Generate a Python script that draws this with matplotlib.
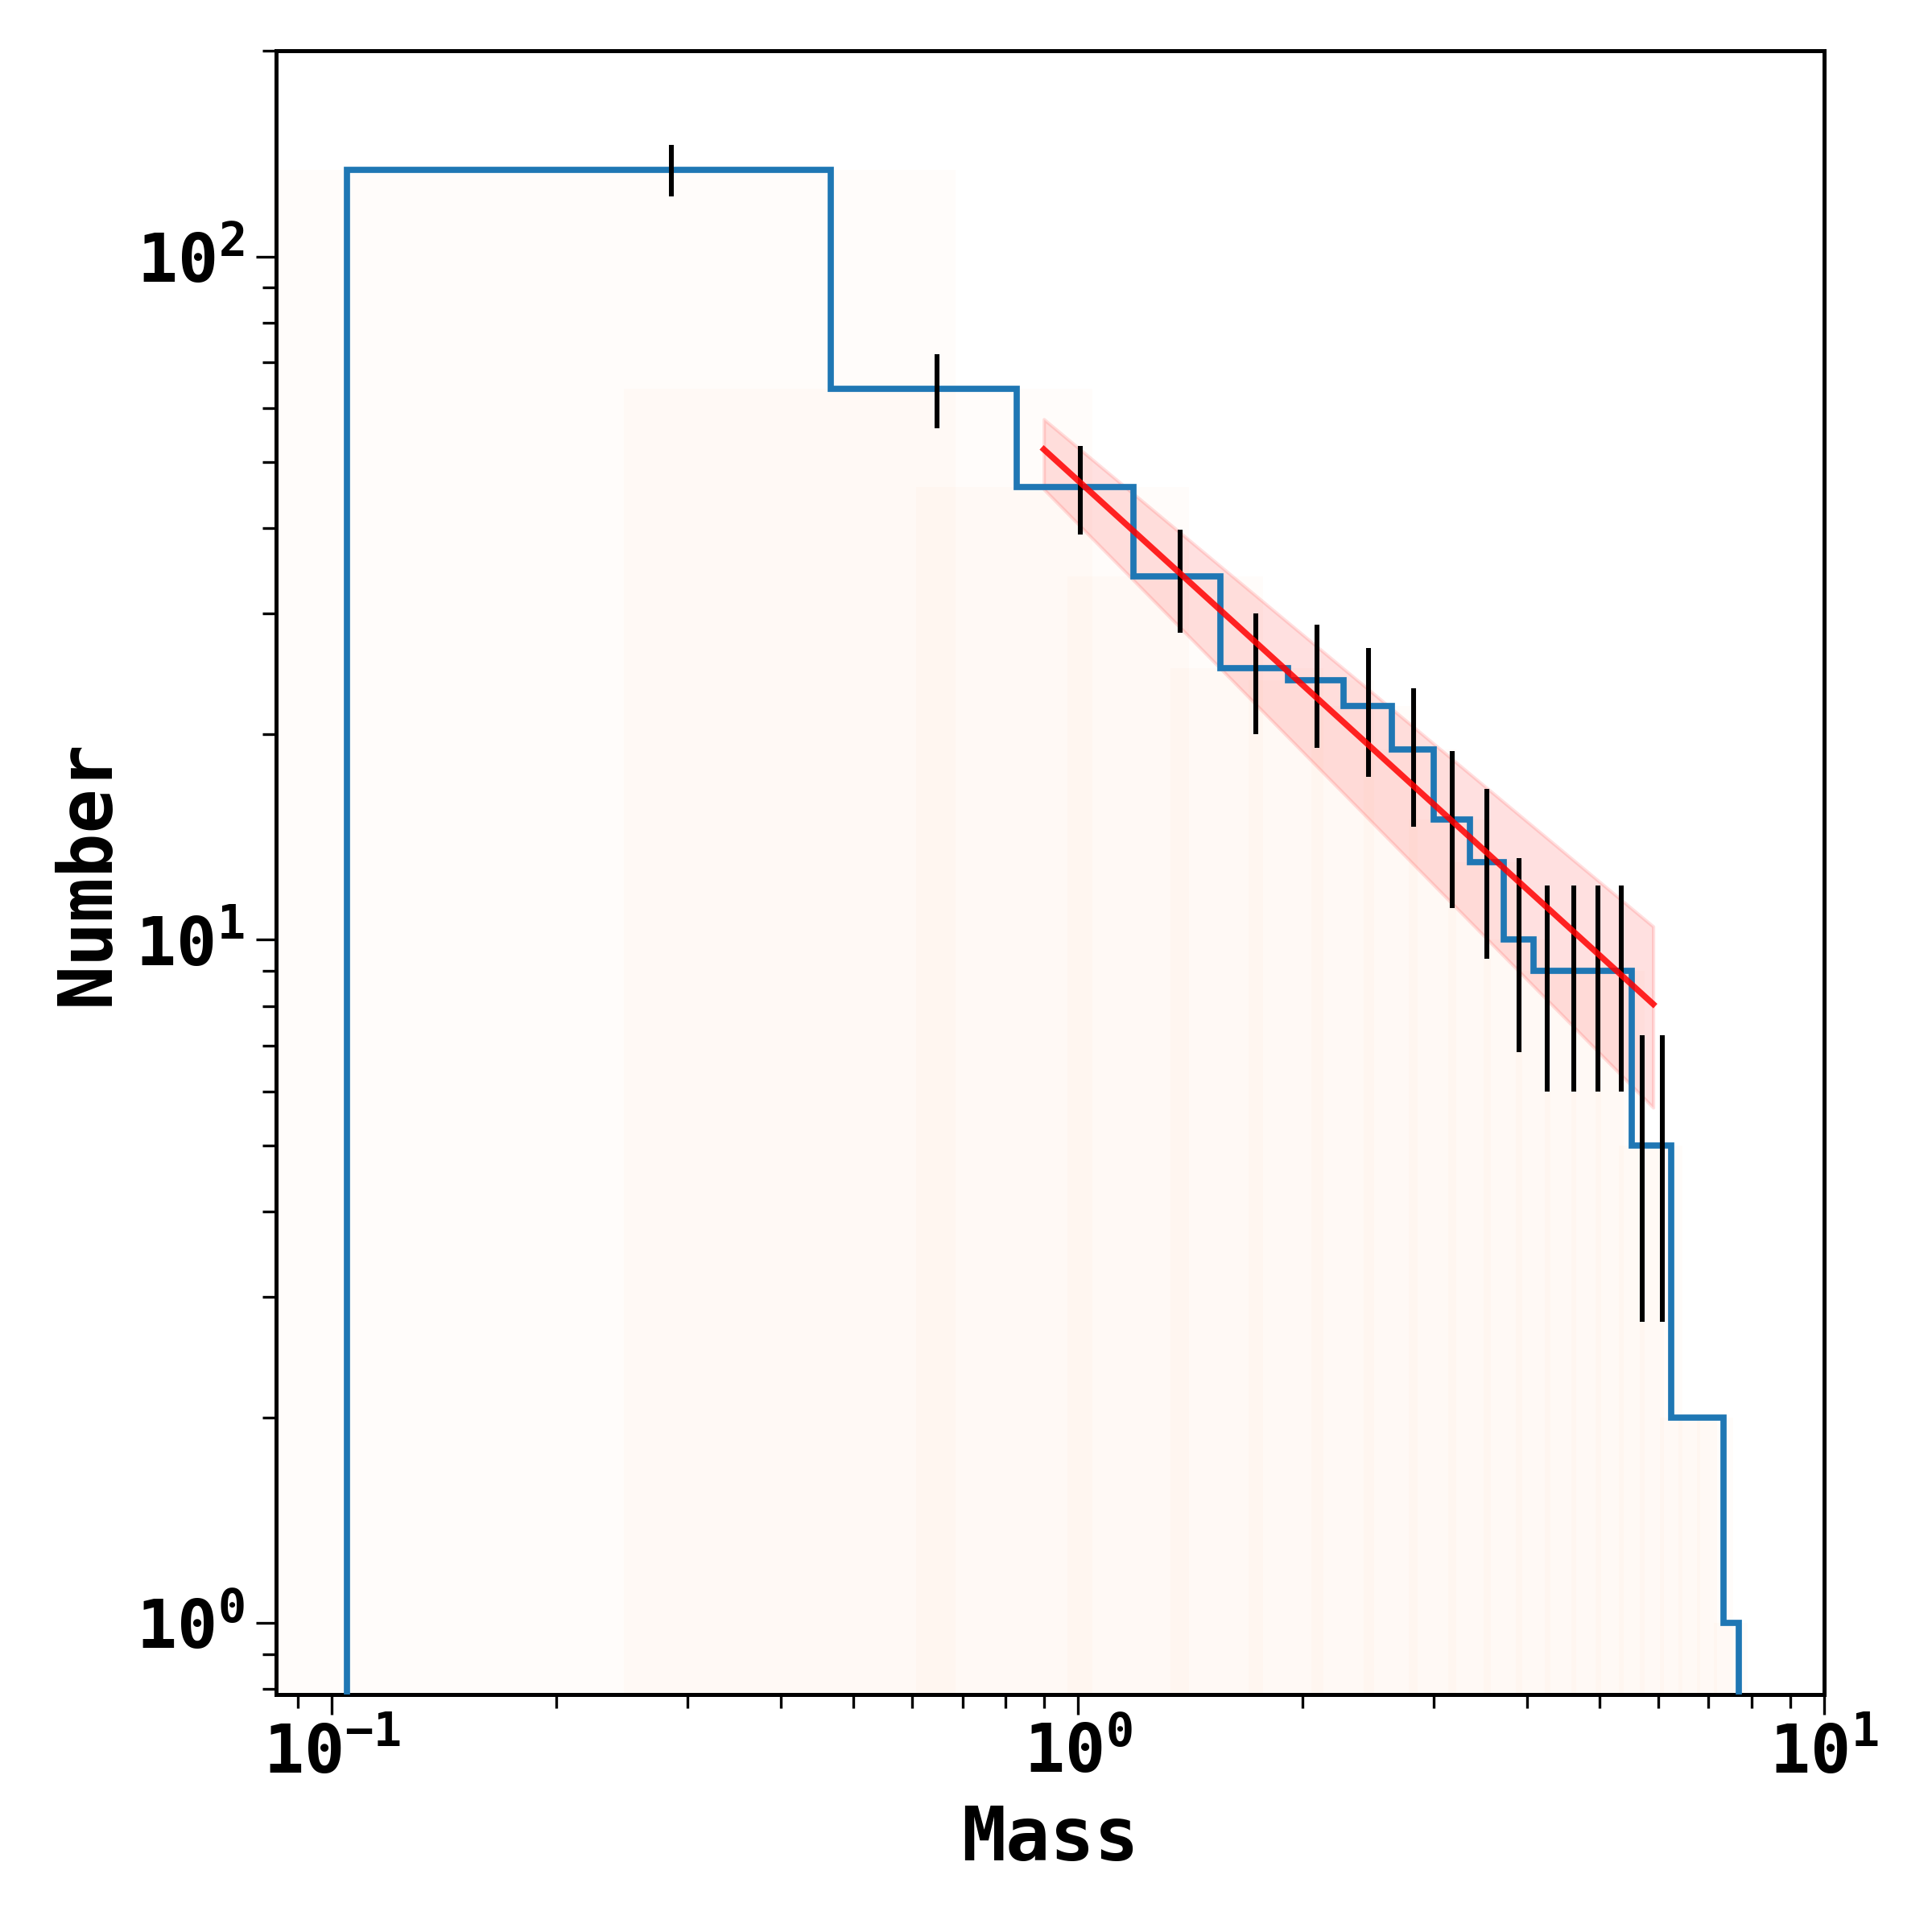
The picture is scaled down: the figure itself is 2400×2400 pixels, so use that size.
import numpy as np
import matplotlib
matplotlib.use("Agg")
import matplotlib.pyplot as plt

# ---- data ----
bin_edges = [0.1048, 0.466, 0.827, 1.188, 1.550, 1.911, 2.272, 2.633, 2.994,
             3.355, 3.716, 4.077, 4.439, 4.800, 5.161, 5.522, 5.883, 6.244,
             6.605, 6.966, 7.327, 7.688]
counts = [134, 64, 46, 34, 25, 24, 22, 19, 15, 13, 10, 9, 9, 9, 9, 5, 5,
          2, 2, 2, 1]
# Poisson error bars drawn for the first 17 bins
err_values = [11.58, 8.0, 6.78, 5.83, 5.0, 4.90, 4.69, 4.36, 3.87, 3.61,
              3.16, 3.0, 3.0, 3.0, 3.0, 2.24, 2.24]

# power-law fit  N = norm * M**slope   over the fitted range
fit_range = [0.9, 5.9]
fit_norm, fit_slope = 47.0, -0.994
band_hi_norm, band_hi_slope = 52.5, -0.909
band_lo_norm, band_lo_slope = 40.6, -1.108

x_label = "Mass"
y_label = "Number"

# ---- style ----
plt.rcParams["font.family"] = "monospace"
plt.rcParams["font.monospace"] = ["DejaVu Sans Mono"]
plt.rcParams["font.weight"] = "bold"
plt.rcParams["axes.labelweight"] = "bold"
plt.rcParams["mathtext.default"] = "regular"

fig = plt.figure(figsize=(8, 8), dpi=300)
ax = fig.add_axes([343 / 2400, 1 - 2105 / 2400, (2266 - 343) / 2400, (2105 - 63) / 2400])
ax.set_xscale("log")
ax.set_yscale("log")

edges = np.array(bin_edges)
cnt = np.array(counts, dtype=float)
centers = 0.5 * (edges[:-1] + edges[1:])

# faint background bars (default bar width)
ax.bar(centers, cnt, width=0.8, color="#ff7f0e", alpha=0.02, zorder=1)

# fit band and line
m = np.geomspace(fit_range[0], fit_range[1], 200)
ax.fill_between(m, band_lo_norm * m ** band_lo_slope, band_hi_norm * m ** band_hi_slope,
                color="red", alpha=0.12, linewidth=1.0, zorder=2)

# histogram step
ax.stairs(cnt, edges, baseline=1e-3, color="#1f77b4", linewidth=1.85, zorder=3)

# error bars
ne = len(err_values)
ax.errorbar(centers[:ne], cnt[:ne], yerr=np.array(err_values), fmt="none",
            ecolor="black", elinewidth=1.45, capsize=0, zorder=4)

ax.plot(m, fit_norm * m ** fit_slope, color="red", alpha=0.85, linewidth=1.8, zorder=5)

ax.set_xlim(0.0842, 10)
ax.set_ylim(0.786, 200)

for s in ax.spines.values():
    s.set_linewidth(1.2)
ax.tick_params(which="major", length=6, width=0.8, labelsize=20, pad=2)
ax.tick_params(which="minor", length=4, width=0.8)
ax.tick_params(axis="y", which="major", pad=3.5)

ax.set_xlabel(x_label, fontsize=22, labelpad=5)
ax.set_ylabel(y_label, fontsize=22, labelpad=3.4)

fig.savefig("out.png", dpi=300)
